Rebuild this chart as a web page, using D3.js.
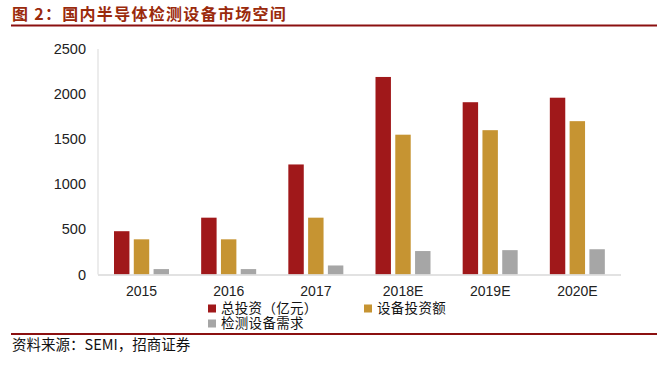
<!DOCTYPE html>
<html>
<head>
<meta charset="utf-8">
<script src="https://cdn.jsdelivr.net/npm/d3@7"></script>
<style>
  body { margin: 0; background: #fff; }
  svg { display: block; font-family: "Liberation Sans", Arial, "Noto Sans CJK SC", sans-serif; }
</style>
</head>
<body>
<svg id="chart" width="668" height="385"></svg>
<script>
// data
const years = ['2015', '2016', '2017', '2018E', '2019E', '2020E'];
const totalInvest = [480, 630, 1220, 2190, 1910, 1960];
const equipInvest = [390, 390, 630, 1550, 1600, 1700];
const testDemand = [60, 60, 100, 260, 270, 280];
const seriesNames = ['总投资（亿元）', '设备投资额', '检测设备需求'];
const seriesColors = ['#A0181A', '#C69432', '#A6A6A6'];
const yTicks = [0, 500, 1000, 1500, 2000, 2500];

const svg = d3.select('#chart');
const cjk = '"Noto Sans CJK SC", sans-serif';

// title + rules
svg.append('text')
  .attr('x', 12).attr('y', 20)
  .style('font-family', cjk)
  .style('font-size', '16px')
  .style('font-weight', 'bold')
  .style('letter-spacing', '1.3px')
  .style('fill', '#9A2A0C')
  .text('图 2：国内半导体检测设备市场空间');

svg.append('line')
  .attr('x1', 11).attr('x2', 657).attr('y1', 25.5).attr('y2', 25.5)
  .style('stroke', '#8B1010').style('stroke-width', 2);

svg.append('line')
  .attr('x1', 11).attr('x2', 657).attr('y1', 334).attr('y2', 334)
  .style('stroke', '#8B1010').style('stroke-width', 2);

svg.append('text')
  .attr('x', 12).attr('y', 350)
  .style('font-family', cjk)
  .style('font-size', '14.5px')
  .style('fill', '#111')
  .text('资料来源：SEMI，招商证券');

// scales
const x0 = d3.scaleBand().domain(years).range([98, 621]).paddingInner(0).paddingOuter(0);
const x1 = d3.scaleBand().domain([0, 1, 2]).range([16, 71]).paddingInner(0.22);
const y = d3.scaleLinear().domain([0, 2500]).range([274.5, 49]);

// axes
svg.append('line')
  .attr('x1', 98).attr('x2', 98).attr('y1', y(2500)).attr('y2', y(0))
  .style('stroke', '#D9D9D9').style('stroke-width', 1);

svg.selectAll('.ytick')
  .data(yTicks)
  .enter()
  .append('text')
  .attr('class', 'ytick')
  .attr('x', 86)
  .attr('y', d => y(d))
  .attr('dy', '0.35em')
  .attr('text-anchor', 'end')
  .style('font-size', '14.5px')
  .style('fill', '#222')
  .text(d => d);

// bars
const series = [totalInvest, equipInvest, testDemand];
series.forEach((vals, s) => {
  svg.selectAll('.bar' + s)
    .data(vals)
    .enter()
    .append('rect')
    .attr('x', (d, i) => x0(years[i]) + x1(s))
    .attr('width', x1.bandwidth())
    .attr('y', d => y(d))
    .attr('height', d => y(0) - y(d))
    .style('fill', seriesColors[s]);
});

svg.append('line')
  .attr('x1', 98).attr('x2', 621).attr('y1', y(0) + 0.5).attr('y2', y(0) + 0.5)
  .style('stroke', '#D9D9D9').style('stroke-width', 1.5);

svg.selectAll('.xlabel')
  .data(years)
  .enter()
  .append('text')
  .attr('x', d => x0(d) + x0.bandwidth() / 2)
  .attr('y', 291)
  .attr('dy', '0.35em')
  .attr('text-anchor', 'middle')
  .style('font-size', '14px')
  .style('fill', '#222')
  .text(d => d);

// legend
const legendPos = [[208, 308.5], [364, 308.5], [208, 323.5]];
seriesNames.forEach((name, i) => {
  const [lx, ly] = legendPos[i];
  svg.append('rect')
    .attr('x', lx).attr('y', ly - 4)
    .attr('width', 8).attr('height', 8)
    .style('fill', seriesColors[i]);
  svg.append('text')
    .attr('x', lx + 13).attr('y', ly)
    .attr('dy', '0.36em')
    .style('font-family', cjk)
    .style('font-size', '13.5px')
    .style('letter-spacing', '0.3px')
    .style('fill', '#111')
    .text(name);
});
</script>
</body>
</html>
